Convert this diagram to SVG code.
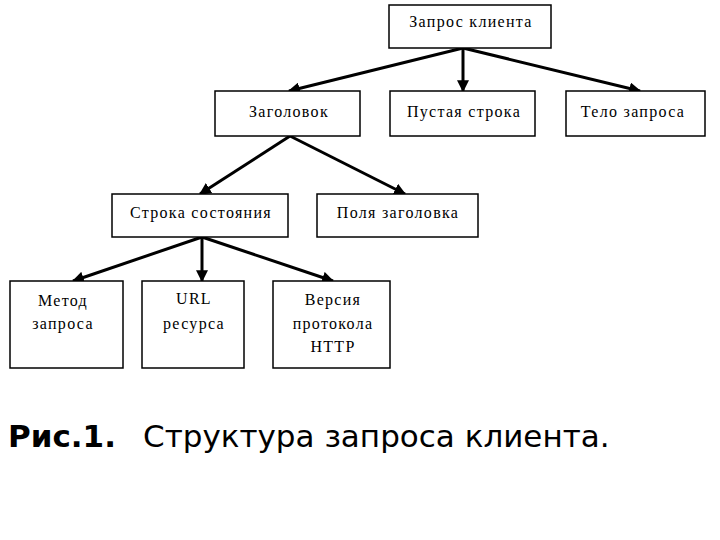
<svg xmlns="http://www.w3.org/2000/svg" width="720" height="540" viewBox="0 0 720 540">
<style>
.box{fill:#fff;stroke:#000;stroke-width:1.5}
.t{font-family:"Liberation Serif","Times New Roman",serif;font-size:16px;text-anchor:middle;fill:#000;letter-spacing:1.3px}
.c{stroke:#000;stroke-width:3;fill:none;marker-end:url(#ah)}
.cap{font-family:"DejaVu Sans",Verdana,sans-serif;font-size:31px;fill:#000}
</style>
<defs>
<marker id="ah" viewBox="0 0 10 10" refX="9" refY="5" markerWidth="4" markerHeight="4" orient="auto" markerUnits="strokeWidth">
<path d="M0,0 L10,5 L0,10 z" fill="#000"/>
</marker>
</defs>
<rect width="720" height="540" fill="#fff"/>
<g id="connectors">
<line class="c" x1="463" y1="48" x2="289" y2="91"/>
<line class="c" x1="463" y1="48" x2="463" y2="91"/>
<line class="c" x1="463" y1="48" x2="640" y2="91"/>
<line class="c" x1="290" y1="136" x2="200" y2="194"/>
<line class="c" x1="290" y1="136" x2="405" y2="194"/>
<line class="c" x1="202" y1="237" x2="73" y2="281"/>
<line class="c" x1="202" y1="237" x2="202" y2="281"/>
<line class="c" x1="202" y1="237" x2="333" y2="281"/>
</g>
<g id="n-zapros"><rect class="box" x="389" y="5" width="162" height="43"/><text class="t" x="471" y="27">Запрос клиента</text></g>
<g id="n-zagolovok"><rect class="box" x="215" y="91" width="145" height="45"/><text class="t" x="289" y="117">Заголовок</text></g>
<g id="n-pustaya"><rect class="box" x="390" y="91" width="145" height="45"/><text class="t" x="464" y="117">Пустая строка</text></g>
<g id="n-telo"><rect class="box" x="566" y="91" width="139" height="45"/><text class="t" x="633" y="117">Тело запроса</text></g>
<g id="n-stroka"><rect class="box" x="112" y="194" width="176" height="43"/><text class="t" x="201" y="218">Строка состояния</text></g>
<g id="n-polya"><rect class="box" x="317" y="194" width="161" height="43"/><text class="t" x="398" y="218">Поля заголовка</text></g>
<g id="n-metod"><rect class="box" x="10" y="281" width="113" height="87"/><text class="t" x="63" y="306">Метод</text><text class="t" x="63" y="329">запроса</text></g>
<g id="n-url"><rect class="box" x="142" y="281" width="102" height="87"/><text class="t" x="194" y="304">URL</text><text class="t" x="194" y="329">ресурса</text></g>
<g id="n-versiya"><rect class="box" x="273" y="281" width="117" height="87"/><text class="t" x="333" y="305">Версия</text><text class="t" x="333" y="329">протокола</text><text class="t" x="333" y="352">HTTP</text></g>
<g id="caption"><text class="cap" x="8" y="447"><tspan font-weight="bold">Рис.1.</tspan><tspan x="143">Структура запроса клиента.</tspan></text></g>
</svg>
